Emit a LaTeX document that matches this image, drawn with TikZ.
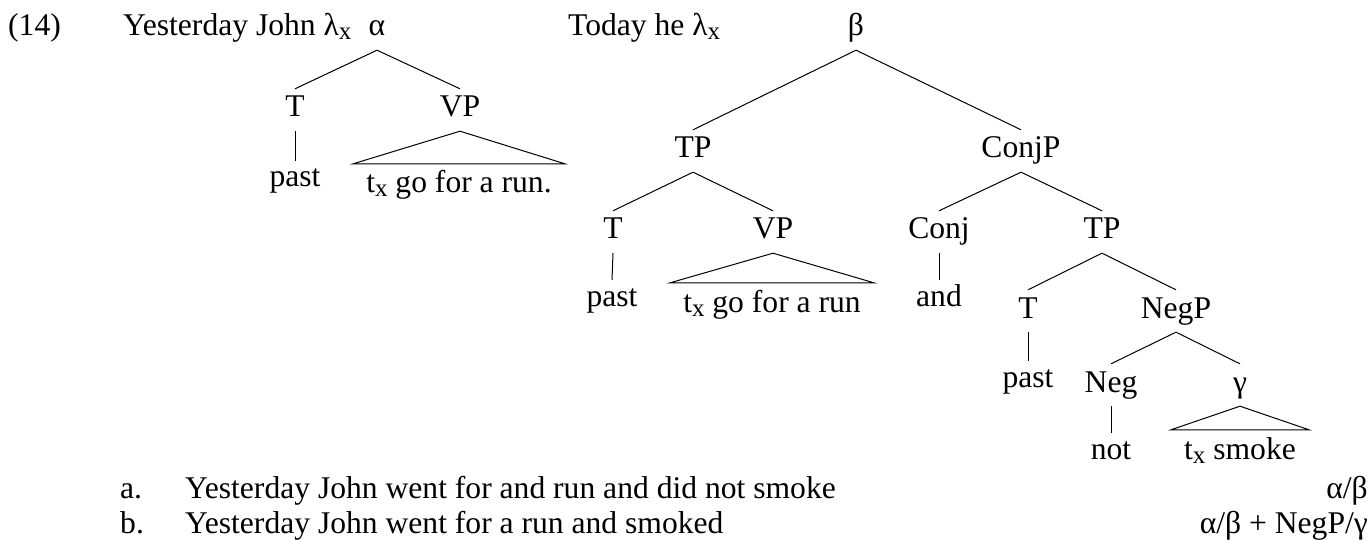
\documentclass[tikz,border=0pt]{standalone}
\usepackage{fontspec}
\setmainfont{Liberation Serif}
\newcommand\sbx{\raisebox{-4pt}{\fontsize{25}{25}\selectfont x}}
\tikzset{
  every node/.style={font=\fontsize{31.6}{38}\selectfont},
  nd/.style={inner sep=0pt, text height=28pt, text depth=14pt, anchor=base},
  lf/.style={inner sep=0pt, text height=26pt, text depth=8pt, anchor=base},
  tl/.style={inner xsep=13pt, inner ysep=0pt, text height=29pt, text depth=8pt, anchor=base},
  txt/.style={inner sep=0pt, anchor=base west},
  txr/.style={inner sep=0pt, anchor=base east},
  br/.style={draw=black, line width=1pt},
}
\begin{document}
\begin{tikzpicture}[x=1pt,y=-1pt]
\useasboundingbox (0,0) rectangle (1371,540);
% headings
\node[txt] (ex) at (8,36) {(14)};
\node[txt] (yj) at (123,36) {Yesterday John λ\sbx};
\node[txt] (th) at (568,36) {Today he λ\sbx};
% tree alpha
\node[nd] (alpha) at (377,36) {α};
\node[nd] (aT) at (295,117) {T};
\node[nd] (aVP) at (460,117) {VP};
\node[lf] (apast) at (295,187) {past};
\node[tl] (arun) at (459,193) {t\sbx\ go for a run.};
\draw[br] (aT.north) -- (alpha.south) -- (aVP.north);
\draw[br] (aT.south) -- (apast.north);
\draw[br] (aVP.south) -- (arun.north west) -- (arun.north east) -- cycle;
% tree beta
\node[nd] (beta) at (856,36) {β};
\node[nd] (bTP) at (693,158) {TP};
\node[nd] (bConjP) at (1021,158) {ConjP};
\node[nd] (bT) at (613,239) {T};
\node[nd] (bVP) at (773,239) {VP};
\node[lf] (bpast) at (612,306) {past};
\node[tl] (brun) at (772,312) {t\sbx\ go for a run};
\node[nd] (bConj) at (939,239) {Conj};
\node[lf] (band) at (939,306) {and};
\node[nd] (bTPb) at (1102,239) {TP};
\node[nd] (cT) at (1028,318) {T};
\node[nd] (cNegP) at (1176,318) {NegP};
\node[lf] (cpast) at (1028,387) {past};
\node[nd] (cNeg) at (1111,392) {Neg};
\node[nd] (cgam) at (1240,392) {γ};
\node[lf] (cnot) at (1111,459) {not};
\node[tl] (csmoke) at (1240,459) {t\sbx\ smoke};
\draw[br] (bTP.north) -- (beta.south) -- (bConjP.north);
\draw[br] (bT.north) -- (bTP.south) -- (bVP.north);
\draw[br] (bT.south) -- (bpast.north);
\draw[br] (bVP.south) -- (brun.north west) -- (brun.north east) -- cycle;
\draw[br] (bConj.north) -- (bConjP.south) -- (bTPb.north);
\draw[br] (bConj.south) -- (band.north);
\draw[br] (cT.north) -- (bTPb.south) -- (cNegP.north);
\draw[br] (cT.south) -- (cpast.north);
\draw[br] (cNeg.north) -- (cNegP.south) -- (cgam.north);
\draw[br] (cNeg.south) -- (cnot.north);
\draw[br] (cgam.south) -- (csmoke.north west) -- (csmoke.north east) -- cycle;
% examples
\node[txt] (la) at (120,498) {a.};
\node[txt] (sa) at (185,498) {Yesterday John went for and run and did not smoke};
\node[txr] (ra) at (1368,498) {α/β};
\node[txt] (lb) at (120,533) {b.};
\node[txt] (sb) at (185,533) {Yesterday John went for a run and smoked};
\node[txr] (rb) at (1368,533) {α/β + NegP/γ};
\end{tikzpicture}
\end{document}
